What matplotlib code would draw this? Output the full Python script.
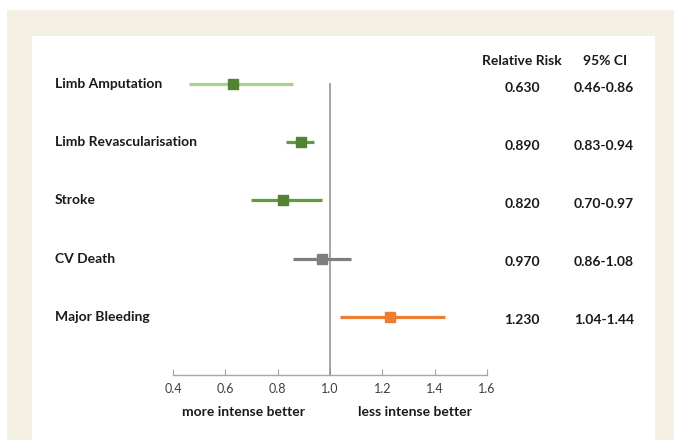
import matplotlib
matplotlib.use("Agg")
import matplotlib.pyplot as plt
from matplotlib.patches import Rectangle
from matplotlib.transforms import blended_transform_factory

# forest plot data
outcomes = ["Limb Amputation", "Limb Revascularisation", "Stroke", "CV Death", "Major Bleeding"]
rr = [0.630, 0.890, 0.820, 0.970, 1.230]
ci_low = [0.46, 0.83, 0.70, 0.86, 1.04]
ci_high = [0.86, 0.94, 0.97, 1.08, 1.44]
xticks = [0.4, 0.6, 0.8, 1.0, 1.2, 1.4, 1.6]

line_colors = ["#a9d18e", "#5e9b3b", "#5e9b3b", "#7f7f7f", "#ed7d31"]
marker_colors = ["#548235", "#548235", "#548235", "#7f7f7f", "#ed7d31"]

plt.rcParams["font.family"] = ["Lato", "DejaVu Sans"]

W, H = 674, 440
fig = plt.figure(figsize=(W / 100, H / 100), dpi=100)
fig.patch.set_facecolor("white")

# beige frame and white panel
fig.patches.append(Rectangle((7 / W, 0), 1 - 7 / W, 1 - 10 / H, transform=fig.transFigure,
                             facecolor="#f4f0e3", edgecolor="none", zorder=-2))
fig.patches.append(Rectangle((32 / W, 0), (655 - 32) / W, 1 - 36 / H, transform=fig.transFigure,
                             facecolor="white", edgecolor="none", zorder=-1))

ax = fig.add_axes([173 / W, (H - 375) / H, 314 / W, 320 / H])
ax.set_facecolor("none")

ys = list(range(len(outcomes)))
for i in ys:
    ax.plot([ci_low[i], ci_high[i]], [i, i], color=line_colors[i], lw=2.3,
            solid_capstyle="butt", zorder=3, clip_on=False)
    ax.plot(rr[i], i, marker="s", ms=7.5, color=marker_colors[i],
            markeredgecolor=marker_colors[i], zorder=4, clip_on=False)

ax.vlines(1.0, -0.02, 5, color="#8c8c8c", lw=1.1, zorder=2)

ax.set_xlim(0.4, 1.6)
ax.set_ylim(5, -0.5)
ax.set_xticks(xticks)
ax.set_xticklabels(["%.1f" % t for t in xticks], fontsize=9, color="#404040")
ax.set_yticks([])
for s in ["left", "top", "right"]:
    ax.spines[s].set_visible(False)
ax.spines["bottom"].set_color("#a6a6a6")
ax.spines["bottom"].set_linewidth(1.0)
ax.tick_params(axis="x", direction="in", length=4, color="#a6a6a6", pad=6)

fs = 10
dark = "#1a1a1a"

# row labels on the left, values on the right
tl = blended_transform_factory(fig.transFigure, ax.transData)
for i in ys:
    ax.text(55 / W, i, outcomes[i], transform=tl, ha="left", va="center",
            fontsize=fs, fontweight="bold", color=dark)
    ax.text(522 / W, i + 0.06, "%.3f" % rr[i], transform=tl, ha="center", va="center",
            fontsize=fs, fontweight="bold", color=dark)
    ax.text(604 / W, i + 0.06, "%.2f-%.2f" % (ci_low[i], ci_high[i]), transform=tl,
            ha="center", va="center", fontsize=fs, fontweight="bold", color=dark)

fig.text(522 / W, 1 - 61 / H, "Relative Risk", ha="center", va="center",
         fontsize=fs, fontweight="bold", color=dark)
fig.text(605 / W, 1 - 61 / H, "95% CI", ha="center", va="center",
         fontsize=fs, fontweight="bold", color=dark)

fig.text(243 / W, 1 - 412 / H, "more intense better", ha="center", va="center",
         fontsize=fs, fontweight="bold", color=dark)
fig.text(415 / W, 1 - 412 / H, "less intense better", ha="center", va="center",
         fontsize=fs, fontweight="bold", color=dark)

fig.savefig("out.png", dpi=100)
